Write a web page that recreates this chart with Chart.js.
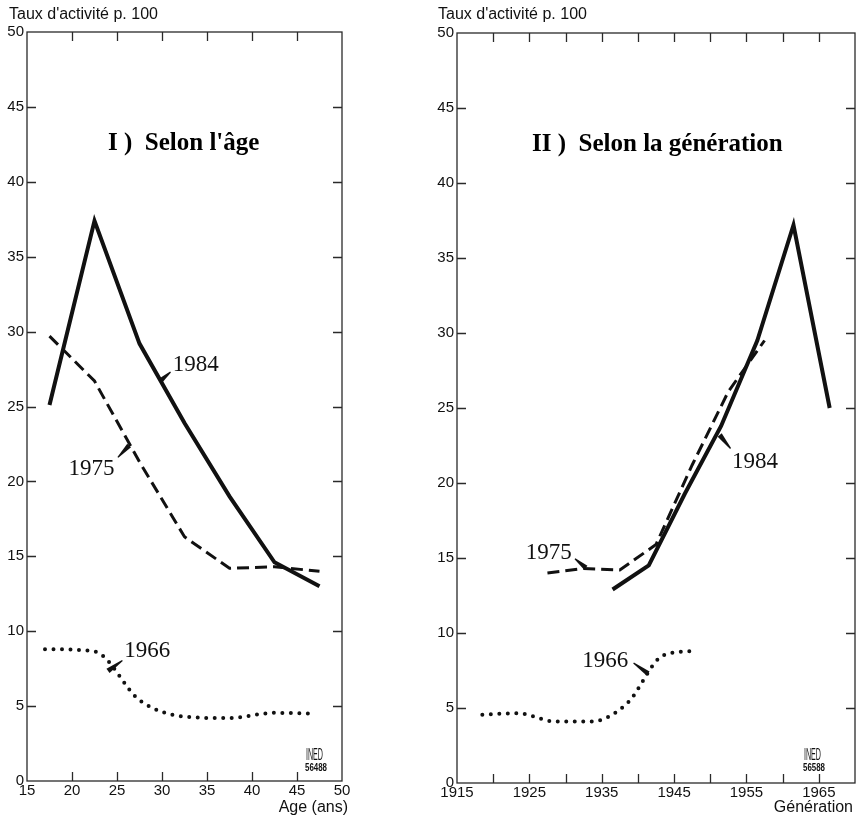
<!DOCTYPE html>
<html><head><meta charset="utf-8">
<script src="https://cdn.jsdelivr.net/npm/chart.js@4.4.1/dist/chart.umd.min.js"></script>
<style>
html,body{margin:0;padding:0;background:#fff;}
#wrap{position:relative;width:859px;height:824px;overflow:hidden;}
#c1{position:absolute;left:0;top:0;}
#c2{position:absolute;left:420px;top:0;}
</style></head><body>
<div id="wrap"><canvas id="c1" width="420" height="824"></canvas><canvas id="c2" width="439" height="824"></canvas></div>
<script>
// ---------- Data: I) by age ----------
const AGES_1984 = [17.5, 22.5, 27.5, 32.5, 37.5, 42.5, 47.5];
const RATE_AGE_1984 = [25.1, 37.4, 29.2, 23.9, 19.0, 14.6, 13.0];
const AGES_1975 = [17.5, 22.5, 27.5, 32.5, 37.5, 42.5, 47.5];
const RATE_AGE_1975 = [29.7, 26.7, 21.3, 16.3, 14.2, 14.3, 14.0];
const AGES_1966 = [17.0, 22.5, 27.5, 32.5, 37.5, 42.5, 46.5];
const RATE_AGE_1966 = [8.8, 8.65, 5.4, 4.3, 4.2, 4.55, 4.5];

// ---------- Data: II) by generation ----------
const GEN_1984 = [1936.5, 1941.5, 1946.5, 1951.5, 1956.5, 1961.5, 1966.5];
const RATE_GEN_1984 = [12.9, 14.5, 19.3, 23.8, 29.5, 37.2, 25.0];
const GEN_1975 = [1927.5, 1932.5, 1937.5, 1942.5, 1947.5, 1952.5, 1957.5];
const RATE_GEN_1975 = [14.0, 14.3, 14.2, 15.9, 21.2, 26.1, 29.5];
const GEN_1966 = [1918.5, 1923.5, 1928.5, 1933.5, 1938.5, 1943.5, 1948.0];
const RATE_GEN_1966 = [4.55, 4.65, 4.1, 4.1, 5.3, 8.5, 8.8];

// ---------- Ticks ----------
const Y_TICKS = [0, 5, 10, 15, 20, 25, 30, 35, 40, 45, 50];
const AGE_TICKS = [15, 20, 25, 30, 35, 40, 45, 50];
const AGE_LABELS = [15, 20, 25, 30, 35, 40, 45, 50];
const GEN_TICKS = [1915, 1920, 1925, 1930, 1935, 1940, 1945, 1950, 1955, 1960, 1965, 1970];
const GEN_LABELS = [1915, 1925, 1935, 1945, 1955, 1965];

// ---------- Texts ----------
const Y_TITLE = "Taux d'activité p. 100";
const TITLE_AGE = "I )  Selon l'âge";
const TITLE_GEN = "II )  Selon la génération";
const X_TITLE_AGE = "Age (ans)";
const X_TITLE_GEN = "Génération";
const SERIES_NAMES = ['1984', '1975', '1966'];

// series annotations (label at data coords, pointer tail -> tip on curve)
const NOTES_AGE = [
  {text: '1984', x: 31.2, y: 27.4, tail: [30.95, 27.3], tip: [29.8, 26.7]},
  {text: '1975', x: 19.6, y: 20.4, tail: [25.1, 21.6], tip: [26.35, 22.4]},
  {text: '1966', x: 25.8, y: 8.27, tail: [25.6, 8.05], tip: [24.0, 7.35]}
];
const NOTES_GEN = [
  {text: '1984', x: 1953.0, y: 21.0, tail: [1952.8, 22.3], tip: [1951.3, 23.2]},
  {text: '1975', x: 1924.5, y: 14.93, tail: [1931.3, 14.95], tip: [1932.8, 14.35]},
  {text: '1966', x: 1932.3, y: 7.73, tail: [1939.4, 8.0], tip: [1941.4, 7.3]}
];

const SANS = "'Liberation Sans', Arial, sans-serif";
const SERIF = "'Liberation Serif', 'DejaVu Serif', serif";

function pts(xs, ys) { return xs.map((x, i) => ({x: x, y: ys[i]})); }

function seriesSets(x84, y84, x75, y75, x66, y66) {
  return [
    {label: SERIES_NAMES[0], data: pts(x84, y84), borderColor: '#111', borderWidth: 4,
     pointRadius: 0, tension: 0, borderJoinStyle: 'miter', borderCapStyle: 'butt'},
    {label: SERIES_NAMES[1], data: pts(x75, y75), borderColor: '#111', borderWidth: 3,
     borderDash: [12, 6], pointRadius: 0, tension: 0, borderCapStyle: 'butt'},
    {label: SERIES_NAMES[2], data: pts(x66, y66), borderColor: '#111', borderWidth: 4,
     borderDash: [0, 8.5], borderCapStyle: 'round', pointRadius: 0,
     cubicInterpolationMode: 'monotone'}
  ];
}

function decoPlugin(cfg) {
  return {
    id: 'deco',
    afterDatasetsDraw(chart) {
      const ctx = chart.ctx, a = chart.chartArea;
      const xs = chart.scales.x, ys = chart.scales.y;
      ctx.save();
      // frame
      ctx.strokeStyle = '#2a2a2a';
      ctx.lineWidth = 1.3;
      ctx.strokeRect(a.left, a.top, a.right - a.left, a.bottom - a.top);
      // inward ticks
      const TL = 9;
      ctx.beginPath();
      cfg.xTicks.forEach(v => {
        const px = Math.round(xs.getPixelForValue(v)) + 0.5;
        if (px <= a.left + 1 || px >= a.right - 1) return;
        ctx.moveTo(px, a.bottom); ctx.lineTo(px, a.bottom - TL);
        ctx.moveTo(px, a.top); ctx.lineTo(px, a.top + TL);
      });
      Y_TICKS.forEach(v => {
        const py = Math.round(ys.getPixelForValue(v)) + 0.5;
        if (py <= a.top + 1 || py >= a.bottom - 1) return;
        ctx.moveTo(a.left, py); ctx.lineTo(a.left + TL, py);
        ctx.moveTo(a.right, py); ctx.lineTo(a.right - TL, py);
      });
      ctx.stroke();

      // annotations
      ctx.fillStyle = '#111';
      ctx.font = '23px ' + SERIF;
      ctx.textAlign = 'left';
      ctx.textBaseline = 'alphabetic';
      cfg.notes.forEach(n => {
        ctx.fillText(n.text, xs.getPixelForValue(n.x), ys.getPixelForValue(n.y));
        const x1 = xs.getPixelForValue(n.tail[0]), y1 = ys.getPixelForValue(n.tail[1]);
        const x2 = xs.getPixelForValue(n.tip[0]), y2 = ys.getPixelForValue(n.tip[1]);
        const dx = x2 - x1, dy = y2 - y1, L = Math.hypot(dx, dy) || 1;
        const nx = -dy / L, ny = dx / L;
        ctx.beginPath();
        ctx.moveTo(x1 + nx * 0.6, y1 + ny * 0.6);
        ctx.lineTo(x2 + nx * 2.6, y2 + ny * 2.6);
        ctx.lineTo(x2 - nx * 2.6, y2 - ny * 2.6);
        ctx.lineTo(x1 - nx * 0.6, y1 - ny * 0.6);
        ctx.closePath();
        ctx.fill();
      });

      // panel title
      ctx.fillStyle = '#000';
      ctx.font = 'bold 25px ' + SERIF;
      ctx.fillText(cfg.title, cfg.titleX, cfg.titleY);

      // axis captions
      ctx.font = '16px ' + SANS;
      ctx.fillStyle = '#111';
      ctx.textAlign = 'left';
      ctx.fillText(Y_TITLE, cfg.yTitleX, 19);
      ctx.textAlign = 'right';
      ctx.fillText(cfg.xTitle, cfg.xTitleX, 812);

      // INED mark
      ctx.textAlign = 'left';
      ctx.font = '16px ' + SANS;
      let w = ctx.measureText('INED').width;
      ctx.save();
      ctx.translate(cfg.inedX + 1, 759.5);
      ctx.scale(17 / w, 1);
      ctx.fillText('INED', 0, 0);
      ctx.restore();
      ctx.font = 'bold 10px ' + SANS;
      w = ctx.measureText(cfg.code).width;
      ctx.save();
      ctx.translate(cfg.inedX, 770.5);
      ctx.scale(22 / w, 1);
      ctx.fillText(cfg.code, 0, 0);
      ctx.restore();
      ctx.restore();
    }
  };
}

function makeChart(canvasId, cfg) {
  return new Chart(document.getElementById(canvasId), {
    type: 'line',
    data: {datasets: cfg.datasets},
    options: {
      responsive: false,
      animation: false,
      devicePixelRatio: 1,
      layout: {padding: {left: 0, right: cfg.padRight, top: cfg.padTop, bottom: 0}},
      plugins: {legend: {display: false}, tooltip: {enabled: false}, title: {display: false}},
      scales: {
        x: {
          type: 'linear', min: cfg.xMin, max: cfg.xMax,
          afterBuildTicks: s => { s.ticks = cfg.xTicks.map(v => ({value: v})); },
          afterFit: s => { s.height = cfg.xHeight; },
          ticks: {
            autoSkip: false, maxRotation: 0, padding: 1, color: '#111',
            font: {family: SANS, size: 15},
            callback: v => cfg.xLabels.includes(v) ? String(v) : ''
          },
          grid: {display: false, drawTicks: false},
          border: {display: false}
        },
        y: {
          type: 'linear', min: 0, max: 50,
          afterBuildTicks: s => { s.ticks = Y_TICKS.map(v => ({value: v})); },
          afterFit: s => { s.width = cfg.yWidth; },
          ticks: {autoSkip: false, padding: 3, color: '#111', font: {family: SANS, size: 15}},
          grid: {display: false, drawTicks: false},
          border: {display: false}
        }
      }
    },
    plugins: [decoPlugin(cfg)]
  });
}

makeChart('c1', {
  datasets: seriesSets(AGES_1984, RATE_AGE_1984, AGES_1975, RATE_AGE_1975, AGES_1966, RATE_AGE_1966),
  xMin: 15, xMax: 50, xTicks: AGE_TICKS, xLabels: AGE_LABELS,
  padRight: 78, padTop: 32, xHeight: 43, yWidth: 27,
  notes: NOTES_AGE, title: TITLE_AGE, titleX: 108, titleY: 150,
  yTitleX: 9, xTitle: X_TITLE_AGE, xTitleX: 348, inedX: 305, code: '56488'
});

makeChart('c2', {
  datasets: seriesSets(GEN_1984, RATE_GEN_1984, GEN_1975, RATE_GEN_1975, GEN_1966, RATE_GEN_1966),
  xMin: 1915, xMax: 1970, xTicks: GEN_TICKS, xLabels: GEN_LABELS,
  padRight: 4, padTop: 33, xHeight: 41, yWidth: 37,
  notes: NOTES_GEN, title: TITLE_GEN, titleX: 112, titleY: 151,
  yTitleX: 18, xTitle: X_TITLE_GEN, xTitleX: 433, inedX: 383, code: '56588'
});
</script>
</body></html>
